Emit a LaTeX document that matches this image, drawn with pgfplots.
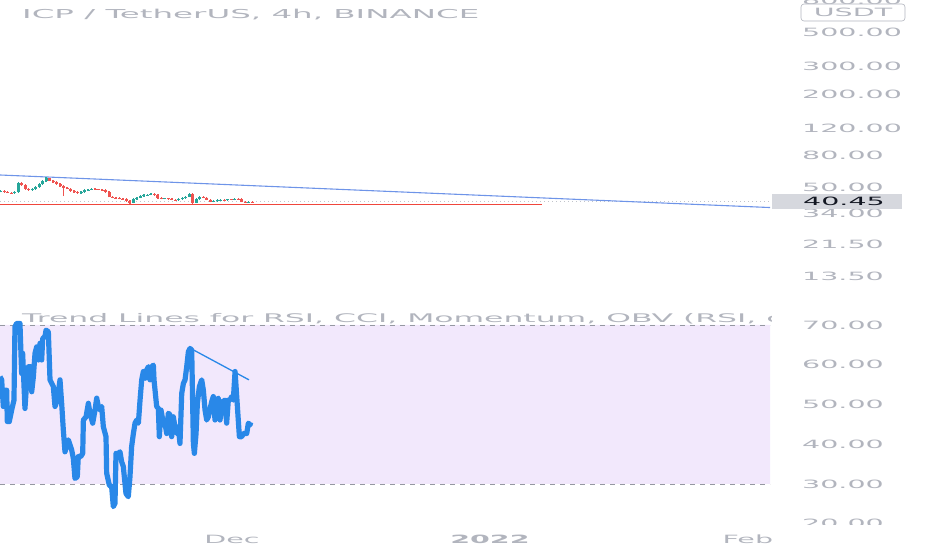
\documentclass[border=0pt]{standalone}
\usepackage{pgfplots}
\pgfplotsset{compat=1.18}
\usepackage{pgfplotstable}
\usepackage{fontspec}
\newfontfamily\tvfont[FakeStretch=2.5]{DejaVu Sans}
\newfontfamily\tvtitle[FakeStretch=2.64]{DejaVu Sans}
\newcommand\tvsize{\fontsize{11.4}{13}\selectfont}

\definecolor{tvgray}{RGB}{178,181,190}
\definecolor{upc}{RGB}{38,166,154}
\definecolor{dnc}{RGB}{239,83,80}
\definecolor{rsiblue}{RGB}{41,136,232}
\definecolor{trendblue}{RGB}{110,148,232}
\definecolor{band}{RGB}{242,232,252}
\definecolor{bandline}{RGB}{149,152,161}
\definecolor{lvl}{RGB}{240,70,60}
\definecolor{lastbox}{RGB}{214,216,222}
\definecolor{darktext}{RGB}{19,23,34}

% 4h candles (x in days from 1 Dec 2021)
\pgfplotstableread{
x o h l c
-27.80 47.00 47.96 46.50 47.46
-27.38 47.46 47.96 46.27 46.77
-26.96 46.77 47.27 45.93 46.43
-26.54 46.43 46.93 45.58 46.08
-26.12 46.08 47.27 45.58 46.77
-25.70 46.77 54.50 46.27 53.45
-25.28 53.45 54.10 51.39 51.89
-24.86 51.89 52.39 48.40 48.90
-24.44 48.90 49.40 47.67 48.17
-24.02 48.17 49.40 47.67 48.90
-23.60 48.90 50.87 48.40 50.37
-23.18 50.37 53.16 49.87 52.66
-22.76 52.66 55.56 52.16 55.06
-22.34 55.06 58.00 54.56 57.14
-21.92 57.14 57.64 54.97 55.47
-21.50 55.47 55.97 53.75 54.25
-21.08 54.25 54.75 52.16 52.66
-20.66 52.66 53.16 50.62 51.12
-20.24 51.12 51.62 44.08 49.63
-19.82 49.63 50.13 48.76 49.26
-19.40 49.26 49.76 46.96 47.46
-18.98 47.46 47.96 46.27 46.77
-18.56 46.77 47.27 45.58 46.08
-18.14 46.08 47.27 45.58 46.77
-17.72 46.77 48.67 46.27 48.17
-17.30 48.17 49.03 47.67 48.53
-16.88 48.53 49.40 48.03 48.90
-16.46 48.90 49.40 48.20 48.70
-16.04 48.70 49.20 48.03 48.53
-15.62 48.53 49.03 47.67 48.17
-15.20 48.17 48.67 46.27 46.77
-14.78 46.77 47.27 43.25 43.75
-14.36 43.75 44.25 42.61 43.11
-13.94 43.11 43.61 42.29 42.79
-13.52 42.79 43.29 41.97 42.47
-13.10 42.47 42.97 41.66 42.16
-12.68 42.16 42.66 40.43 40.93
-12.26 40.93 41.43 39.15 40.03
-11.84 40.03 42.66 39.53 42.16
-11.42 42.16 43.61 41.66 43.11
-11.00 43.11 44.58 42.61 44.08
-10.58 44.08 45.23 43.58 44.73
-10.16 44.73 45.57 44.23 45.07
-9.74 45.07 45.90 44.57 45.40
-9.32 45.40 45.90 44.23 44.73
-8.90 44.73 45.23 42.29 42.79
-8.48 42.79 43.29 41.97 42.47
-8.06 42.47 43.10 41.97 42.60
-7.64 42.60 43.10 41.66 42.16
-7.22 42.16 42.66 41.35 41.85
-6.80 41.85 42.35 41.04 41.54
-6.38 41.54 42.66 41.04 42.16
-5.96 42.16 43.29 41.66 42.79
-5.54 42.79 44.25 42.29 43.75
-5.12 43.75 46.20 43.25 45.40
-4.70 45.40 45.90 39.44 40.03
-4.28 40.03 42.66 39.53 42.16
-3.86 42.16 44.25 41.66 43.75
-3.44 43.75 44.25 42.61 43.11
-3.02 43.11 43.61 41.35 41.85
-2.60 41.85 42.35 40.13 40.63
-2.18 40.63 41.43 40.13 40.93
-1.76 40.93 42.04 40.43 41.54
-1.34 41.54 42.35 41.04 41.85
-0.92 41.85 42.35 41.20 41.70
-0.50 41.70 42.45 41.20 41.95
-0.08 41.95 42.45 41.35 41.85
0.34 41.85 42.97 41.35 42.47
0.76 42.47 42.97 41.66 42.16
1.18 42.16 42.66 40.13 40.63
1.60 40.63 41.13 39.83 40.33
2.02 40.33 41.13 39.83 40.63
2.44 40.63 41.13 39.95 40.45
}\candles

% RSI(14)
\pgfplotstableread{
x rsi
-27.88 57.0
-27.68 56.2
-27.48 49.5
-27.28 53.6
-27.08 53.6
-27.00 45.7
-26.76 45.7
-26.48 48.6
-26.20 51.1
-26.08 69.6
-25.88 70.4
-25.48 70.4
-25.28 57.8
-25.16 62.9
-24.88 49.0
-24.68 55.3
-24.47 59.5
-24.19 59.5
-24.07 53.2
-23.87 57.0
-23.67 62.9
-23.47 64.5
-23.27 61.2
-23.07 65.4
-22.87 61.2
-22.75 66.6
-22.47 67.1
-22.35 68.7
-22.07 68.3
-21.87 56.2
-21.47 54.5
-21.27 49.5
-20.99 51.1
-20.67 56.2
-20.47 50.3
-20.27 43.6
-20.07 38.1
-19.67 41.1
-19.27 38.6
-19.07 36.5
-18.87 31.4
-18.59 31.8
-18.47 36.9
-18.18 36.9
-17.94 37.7
-17.86 46.1
-17.54 46.9
-17.26 50.3
-17.06 47.8
-16.74 45.3
-16.46 48.6
-16.26 51.6
-16.06 49.5
-15.86 48.6
-15.66 49.5
-15.46 44.4
-15.14 41.9
-15.06 32.7
-14.74 29.7
-14.46 29.3
-14.26 24.3
-14.06 25.1
-13.94 37.7
-13.66 37.7
-13.46 38.1
-13.26 35.6
-13.06 34.4
-12.74 27.6
-12.46 26.8
-12.26 31.8
-12.06 39.4
-11.85 42.7
-11.65 45.3
-11.45 46.1
-11.25 45.3
-11.05 51.1
-10.85 56.2
-10.65 58.3
-10.45 56.6
-10.25 58.7
-10.05 59.5
-9.85 56.2
-9.65 59.5
-9.45 59.9
-9.37 56.2
-9.05 49.5
-8.85 49.0
-8.73 41.9
-8.53 48.6
-8.25 45.3
-8.05 45.3
-7.85 42.7
-7.65 47.8
-7.45 47.4
-7.25 41.9
-7.05 46.9
-6.85 44.4
-6.65 42.7
-6.45 44.4
-6.25 40.2
-6.04 52.8
-5.84 55.3
-5.64 56.2
-5.44 59.5
-5.24 63.3
-5.04 64.1
-4.84 63.7
-4.64 40.2
-4.52 37.7
-4.32 42.7
-4.16 50.3
-3.92 54.5
-3.64 56.2
-3.44 53.6
-3.24 48.6
-3.04 46.1
-2.84 46.9
-2.44 50.7
-2.24 52.0
-2.04 46.1
-1.84 51.1
-1.64 51.6
-1.44 46.1
-1.12 50.7
-0.84 51.1
-0.64 45.3
-0.44 51.1
-0.24 51.1
-0.04 52.0
0.16 51.1
0.37 58.3
0.57 52.0
0.89 41.9
1.17 41.9
1.37 42.7
1.77 42.7
1.97 45.3
2.17 44.9
2.25 45.5
}\rsi

\pgfplotstablegetrowsof{\candles}
\pgfmathtruncatemacro\lastrow{\pgfplotsretval-1}

\pgfplotsset{
  tvpane/.style={
    scale only axis, width=770pt,
    xmin=-27.88, xmax=64.66,
    axis line style={draw=none}, major tick length=0pt,
    yticklabel pos=right,
    yticklabel style={anchor=west, inner sep=0pt, xshift=32pt, font=\tvfont\tvsize, text=tvgray},
  },
}

\begin{document}
\begin{tikzpicture}
% price pane
\begin{axis}[tvpane,
  at={(0pt,246pt)}, anchor=south west, height=304pt,
  ymode=log, ymin=8.91, ymax=803.2,
  xtick=\empty,
  ytick={13.5,21.5,34,50,80,120,200,300,500,800},
  yticklabels={13.50,21.50,34.00,50.00,80.00,120.00,200.00,300.00,500.00,800.00},
]
\addplot[tvgray!80, line width=0.8pt, dash pattern=on 1pt off 3pt, forget plot]
  coordinates {(-27.88,40.45) (64.66,40.45)};
\addplot[lvl, line width=1.8pt, forget plot]
  coordinates {(-27.88,38.86) (37.26,38.86)};
\addplot[trendblue, line width=1.1pt, forget plot]
  coordinates {(-27.88,60.18) (64.66,37.17)};
\pgfplotsforeachungrouped \i in {0,...,\lastrow}{
  \pgfplotstablegetelem{\i}{x}\of\candles \let\cx\pgfplotsretval
  \pgfplotstablegetelem{\i}{o}\of\candles \let\co\pgfplotsretval
  \pgfplotstablegetelem{\i}{h}\of\candles \let\ch\pgfplotsretval
  \pgfplotstablegetelem{\i}{l}\of\candles \let\cl\pgfplotsretval
  \pgfplotstablegetelem{\i}{c}\of\candles \let\cc\pgfplotsretval
  \pgfmathtruncatemacro\isup{\cc>=\co}
  \ifnum\isup=1 \def\ccol{upc}\else\def\ccol{dnc}\fi
  \edef\temp{%
    \noexpand\addplot[\ccol, line width=1.2pt, forget plot] coordinates {(\cx,\cl) (\cx,\ch)};
    \noexpand\addplot[\ccol, line width=3pt, forget plot] coordinates {(\cx,\co) (\cx,\cc)};}
  \temp
}
\coordinate (last) at (axis cs:64.66,40.45);
\end{axis}

% RSI pane
\begin{axis}[tvpane,
  at={(0pt,24pt)}, anchor=south west, height=222pt,
  ymin=19.43, ymax=75.28,
  xtick={0,31,62}, xticklabels={Dec,{\bfseries 2022},Feb},
  xticklabel style={anchor=center, inner sep=0pt, yshift=-13pt, font=\tvfont\tvsize, text=tvgray},
  ytick={20,30,40,50,60,70},
  yticklabels={20.00,30.00,40.00,50.00,60.00,70.00},
]
\addplot[fill=band, draw=none, forget plot]
  coordinates {(-27.88,30) (64.66,30) (64.66,70) (-27.88,70) (-27.88,30)};
\addplot[bandline, line width=0.8pt, dash pattern=on 5pt off 5pt, forget plot]
  coordinates {(-27.88,70) (64.66,70)};
\addplot[bandline, line width=0.8pt, dash pattern=on 5pt off 5pt, forget plot]
  coordinates {(-27.88,30) (64.66,30)};
\addplot[rsiblue, line width=5.2pt, line join=round, forget plot]
  table[x=x, y=rsi] {\rsi};
\addplot[rsiblue, line width=1.3pt, forget plot]
  coordinates {(-5.05,64.2) (2.04,56.2)};
\end{axis}

% scale area below the RSI pane hides the lower part of the 20.00 label
\fill[white] (772pt,0pt) rectangle (932pt,25pt);

% last price tag
\fill[lastbox] ([xshift=2pt,yshift=-7.5pt]last) rectangle ([xshift=132pt,yshift=7.5pt]last);
\node[anchor=west, inner sep=0pt, font=\tvfont\tvsize, text=darktext] at ([xshift=33pt]last) {40.45};

% currency tag
\filldraw[fill=white, draw=tvgray, line width=0.6pt, rounded corners=3pt] (801pt,529pt) rectangle (905pt,546pt);
\node[inner sep=0pt, font=\tvfont\tvsize, text=tvgray] at (853pt,537.5pt) {USDT};

% pane titles
\node[anchor=west, inner sep=0pt, font=\tvtitle\fontsize{12.3}{14}\selectfont, text=tvgray] at (22pt,535pt) {ICP / TetherUS, 4h, BINANCE};
\begin{scope}
\clip (0pt,200pt) rectangle (771pt,260pt);
\node[anchor=west, inner sep=0pt, font=\tvtitle\fontsize{11.9}{14}\selectfont, text=tvgray] at (22pt,231pt) {Trend Lines for RSI, CCI, Momentum, OBV (RSI, c};
\end{scope}

\pgfresetboundingbox
\useasboundingbox (0pt,0pt) rectangle (932pt,550pt);
\end{tikzpicture}
\end{document}
